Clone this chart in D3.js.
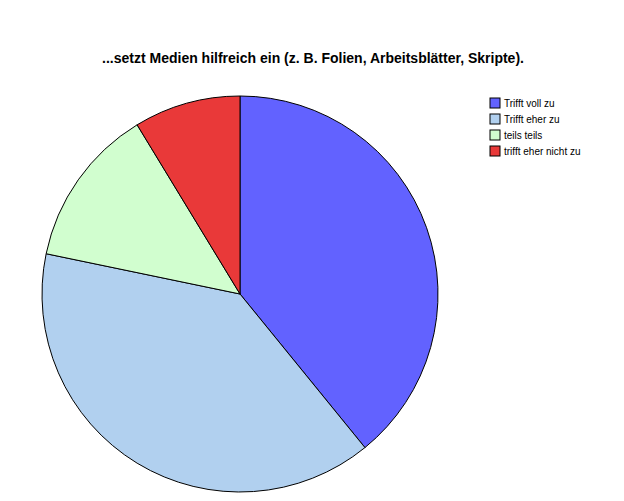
<!DOCTYPE html>
<html><head><meta charset="utf-8">
<script src="https://cdn.jsdelivr.net/npm/d3@7"></script>
<style>body{margin:0;background:#fff}</style>
</head><body>
<svg id="chart" width="624" height="501"></svg>
<script>
// answer categories and counts
var categories = ["Trifft voll zu", "Trifft eher zu", "teils teils", "trifft eher nicht zu"];
var counts = [9, 9, 3, 2];
var colors = ["#6262ff", "#b1d0ef", "#d1fecf", "#e93939"];

var svg = d3.select("#chart");

svg.append("text")
  .attr("x", 313).attr("y", 63)
  .attr("text-anchor", "middle")
  .style("font", "bold 14px 'Liberation Sans', Arial, sans-serif")
  .text("...setzt Medien hilfreich ein (z. B. Folien, Arbeitsblätter, Skripte).");

var pie = d3.pie().sort(null).value(d => d);
var arc = d3.arc().innerRadius(0).outerRadius(198);

var g = svg.append("g").attr("transform", "translate(240,294)");
g.selectAll("path")
  .data(pie(counts))
  .enter().append("path")
  .attr("d", arc)
  .attr("fill", (d, i) => colors[i])
  .attr("stroke", "#000")
  .attr("stroke-width", 1);

var legend = svg.append("g").attr("transform", "translate(490,98)");
categories.forEach(function(c, i) {
  var row = legend.append("g").attr("transform", "translate(0," + (i * 16) + ")");
  row.append("rect").attr("width", 10).attr("height", 10)
    .attr("fill", colors[i]).attr("stroke", "#000").attr("stroke-width", 1);
  row.append("text").attr("x", 14).attr("y", 9)
    .style("font", "10px 'Liberation Sans', Arial, sans-serif")
    .text(c);
});
</script>
</body></html>
